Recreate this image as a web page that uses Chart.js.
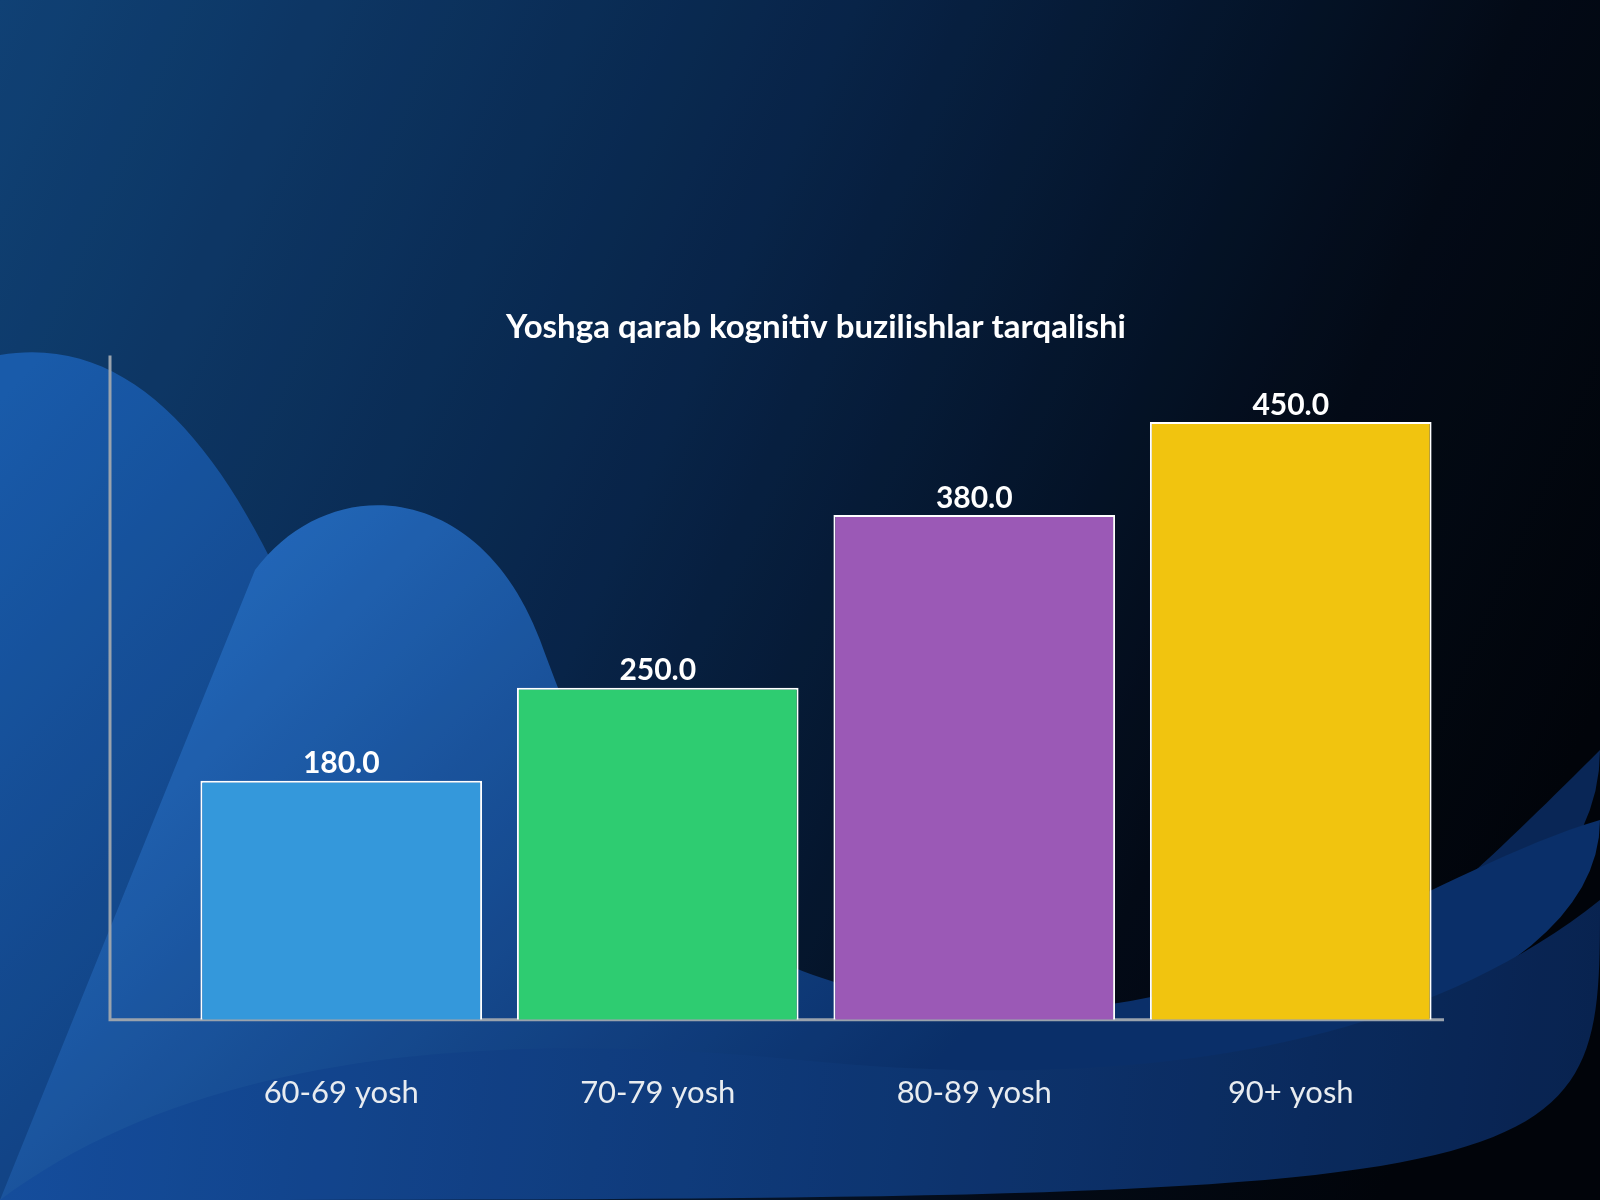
<!DOCTYPE html>
<html><head><meta charset="utf-8">
<script src="https://cdn.jsdelivr.net/npm/chart.js"></script>
<style>html,body{margin:0;padding:0;background:#04101f}#wrap{position:relative;width:1600px;height:1200px}canvas{position:absolute;left:0;top:0}</style>
</head><body><div id="wrap"><canvas id="bg" width="1600" height="1200"></canvas><div style="position:absolute;left:0;top:0;width:1600px;height:1200px"><canvas id="c"></canvas></div></div>
<script>
const categories = ["60-69 yosh","70-79 yosh","80-89 yosh","90+ yosh"];
const values = [180,250,380,450];
const colors = ["#3498db","#2ecc71","#9b59b6","#f1c40f"];
const titleText = "Yoshga qarab kognitiv buzilishlar tarqalishi";

const b = document.getElementById('bg').getContext('2d');
let g = b.createLinearGradient(0,0,1600,700);
g.addColorStop(0,'#14508f'); g.addColorStop(0.45,'#0a2c58'); g.addColorStop(0.8,'#040d1c'); g.addColorStop(1,'#02060d');
b.fillStyle=g; b.fillRect(0,0,1600,1200);
function wave(pts,c1,c2,x0,y0,x1,y1){b.beginPath();b.moveTo(pts[0],pts[1]);for(let i=2;i<pts.length;i+=6)b.bezierCurveTo(pts[i],pts[i+1],pts[i+2],pts[i+3],pts[i+4],pts[i+5]);b.closePath();let gg=b.createLinearGradient(x0,y0,x1,y1);gg.addColorStop(0,c1);gg.addColorStop(1,c2);b.fillStyle=gg;b.fill();}
wave([0,355, 150,330,250,480,330,700, 420,950,600,1100,900,1120, 1200,1140,1400,950,1600,750, 1600,1200,0,1200,0,1200],'#1f6fd0','#0b2f6a',0,400,900,1200);
wave([255,570, 330,470,480,480,540,640, 620,860,700,990,1000,1010, 1250,1020,1430,870,1600,820, 1600,1200,0,1200,0,1200],'#2a7de0','#0d3a80',300,500,900,1100);
wave([0,1200, 200,1050,500,1030,800,1060, 1100,1090,1400,1060,1600,900, 1600,1200,1600,1200,0,1200],'#1a5fc0','#0a2a60',0,1000,1600,1200);
b.fillStyle='rgba(0,0,0,0.18)';b.fillRect(0,0,1600,1200);

const axisPlugin={id:'axes',beforeDatasetsDraw(ch){const x=ch.ctx,a=ch.chartArea;const lx=a.left-73;x.save();x.strokeStyle='#9aa3ad';x.lineWidth=3;x.beginPath();x.moveTo(lx,a.top);x.lineTo(lx,a.bottom);x.lineTo(a.right-5,a.bottom);x.stroke();x.restore();}};
const labelPlugin={id:'lbl',afterDatasetsDraw(ch){const x=ch.ctx;const m=ch.getDatasetMeta(0);x.save();x.font='bold 30px Lato';x.fillStyle='#ffffff';x.textAlign='center';x.textBaseline='bottom';m.data.forEach((el,i)=>x.fillText(values[i].toFixed(1),el.x,el.y-2));x.restore();}};
new Chart(document.getElementById('c'),{type:'bar',
data:{labels:categories,datasets:[{data:values,backgroundColor:colors,borderColor:'#ffffff',borderWidth:2,barPercentage:0.89,categoryPercentage:1}]},
options:{responsive:true,maintainAspectRatio:false,animation:false,
layout:{padding:{left:183,right:151,top:308,bottom:33}},
plugins:{legend:{display:false},tooltip:{enabled:false},title:{display:true,text:titleText,color:'#ffffff',font:{family:'Lato',size:33,weight:'bold'},padding:{top:0,bottom:8}}},
scales:{x:{grid:{display:false,drawTicks:false},border:{display:false},ticks:{color:'#e8ecf0',font:{family:'Lato',size:31},padding:55}},
y:{display:false,min:0,max:500}}},
plugins:[axisPlugin,labelPlugin]});
</script></body></html>
